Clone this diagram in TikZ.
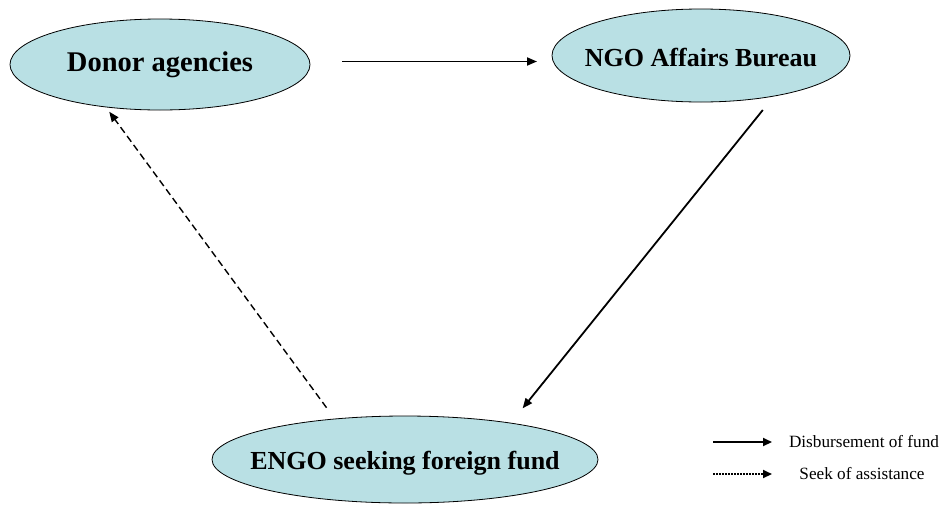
\documentclass[tikz,border=0pt]{standalone}
\usepackage{fontspec}
\setmainfont{Liberation Serif}
\usetikzlibrary{arrows.meta,shapes.geometric}
\definecolor{bubblefill}{RGB}{185,224,228}
\begin{document}
\begin{tikzpicture}[x=1pt,y=-1pt,
		party/.style={ellipse,draw=black,line width=0.8pt,fill=bubblefill,inner sep=0pt,outer sep=0pt},
		partytext/.style={font=\bfseries\fontsize{26}{30}\selectfont,inner sep=0pt},
		fund/.style={line width=1.8pt,-{Triangle[length=10pt,width=8pt]}},
		seek/.style={line width=1.4pt,dash pattern=on 7pt off 4pt,-{Triangle[length=10pt,width=8pt]}},
		keytext/.style={font=\fontsize{17.2}{20}\selectfont,inner sep=0pt}]
			
			\useasboundingbox (0,0) rectangle (942,504);
			
			% the three parties
			\node[party,minimum width=300pt,minimum height=91pt] (donor) at (160,64.5) {};
			\node[party,minimum width=298pt,minimum height=93pt] (ngo) at (701,55.5) {};
			\node[party,minimum width=386pt,minimum height=87pt] (engo) at (405,459.5) {};
			\node[partytext,font=\bfseries\fontsize{28.5}{32}\selectfont] (donortext) at (donor) {Donor agencies};
			\node[partytext,yshift=-2pt] (ngotext) at (ngo) {NGO Affairs Bureau};
			\node[partytext,yshift=-4pt] (engotext) at (engo) {ENGO seeking foreign fund};
			
			% flow of the fund
			\draw[fund,shorten <=32pt,shorten >=15pt] ([yshift=3pt]donor.east) -- ([yshift=3pt]donor.east -| ngo.west);
			\draw[fund,shorten <=18pt,shorten >=19pt] (ngo.-29) -- (engo.19);
			
			% asking for help
			\draw[seek,shorten <=14pt,shorten >=6pt] (engo.150) -- (donor.218);
			
			% key
			\node[keytext] (disb) at (864,442) {Disbursement of fund};
			\node[keytext] (assist) at (862,474) {Seek of assistance};
			\coordinate (k1s) at (713,442);
			\coordinate (k1e) at (772,442);
			\coordinate (k2s) at (713,474);
			\coordinate (k2e) at (772,474);
			\draw[line width=2pt,-{Triangle[length=9pt,width=8pt]}] (k1s) -- (k1e);
			\draw[line width=2pt,densely dotted,-{Triangle[length=9pt,width=8pt]}] (k2s) -- (k2e);
			
		\end{tikzpicture}
\end{document}
